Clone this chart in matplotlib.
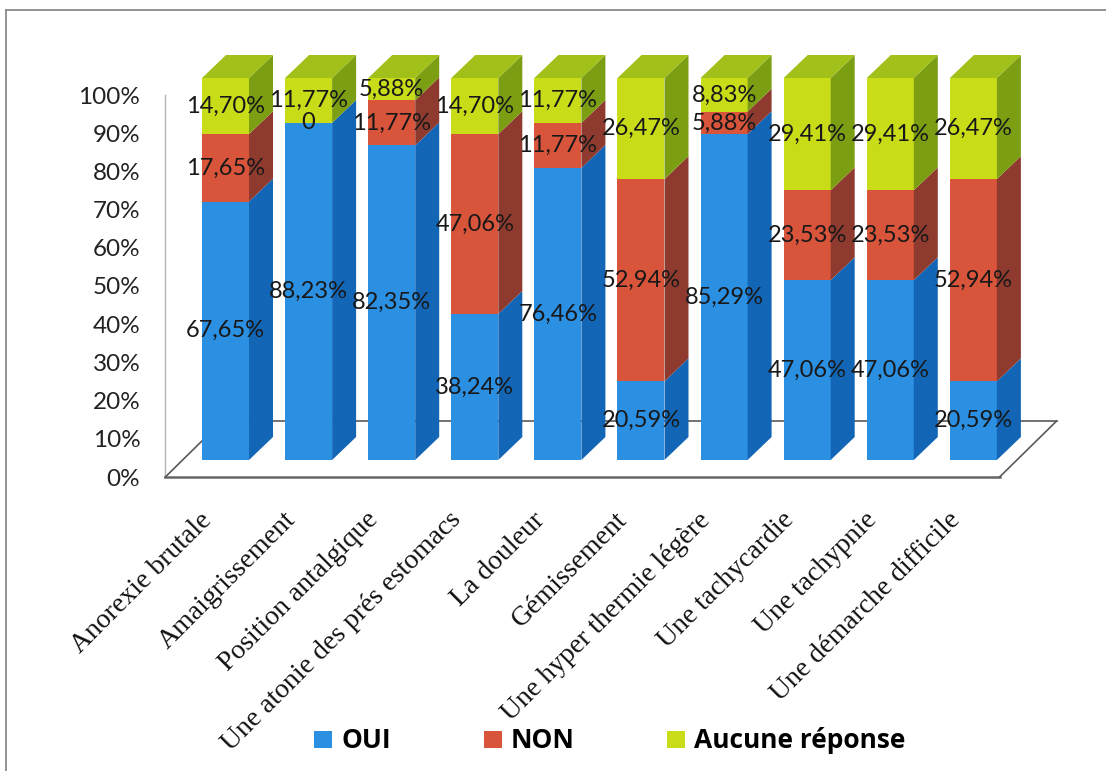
import matplotlib
matplotlib.use("Agg")
import matplotlib.pyplot as plt
from matplotlib.patches import Polygon
from matplotlib.lines import Line2D
from matplotlib.transforms import ScaledTranslation
import numpy as np

# ---- data -------------------------------------------------------------
categories = [
    "Anorexie brutale",
    "Amaigrissement",
    "Position antalgique",
    "Une atonie des prés estomacs",
    "La douleur",
    "Gémissement",
    "Une hyper thermie légère",
    "Une tachycardie",
    "Une tachypnie",
    "Une démarche difficile",
]
series_names = ["OUI", "NON", "Aucune réponse"]
oui = [67.65, 88.23, 82.35, 38.24, 76.46, 20.59, 85.29, 47.06, 47.06, 20.59]
non = [17.65, 0.00, 11.77, 47.06, 11.77, 52.94, 5.88, 23.53, 23.53, 52.94]
aucune = [14.70, 11.77, 5.88, 14.70, 11.77, 26.47, 8.83, 29.41, 29.41, 26.47]
y_ticks = [0, 10, 20, 30, 40, 50, 60, 70, 80, 90, 100]
y_tick_labels = [f"{t}%" for t in y_ticks]

# ---- style ------------------------------------------------------------
front_colors = ["#2b8fe2", "#d8543b", "#c9dc18"]
side_colors = ["#1366b6", "#8f3a2e", "#7c9e12"]
top_color = "#a2c01a"
label_color = "#181818"

W, H = 1106, 771
fig = plt.figure(figsize=(W / 100, H / 100), dpi=100)

# pixel layout of the plotting box (front plane of the columns)
x_lo, x_hi = -0.52, 9.52
px_left, px_right = 182.3, 1016.6
px_bottom, px_top = 311.0, 693.0
ax = fig.add_axes([px_left / W, px_bottom / H,
                   (px_right - px_left) / W, (px_top - px_bottom) / H])
ax.set_xlim(x_lo, x_hi)
ax.set_ylim(0, 100)
ax.axis("off")
ax.patch.set_visible(False)

ppx = (px_right - px_left) / (x_hi - x_lo)   # pixels per category unit
ppy = (px_top - px_bottom) / 100.0            # pixels per percent

# floor front plane sits slightly in front of the columns
floor_dx, floor_dy = -17.0, -17.0
axf = fig.add_axes([(px_left + floor_dx) / W, (px_bottom + floor_dy) / H,
                    (px_right - px_left) / W, (px_top - px_bottom) / H])
axf.set_xlim(x_lo, x_hi)
axf.set_ylim(0, 100)
axf.patch.set_visible(False)
axf.set_zorder(ax.get_zorder() - 1)
for side in ("top", "right"):
    axf.spines[side].set_visible(False)
axf.spines["left"].set_color("#b5b5b5")
axf.spines["left"].set_linewidth(1.0)
axf.spines["bottom"].set_color("#666666")
axf.spines["bottom"].set_linewidth(1.8)
axf.set_yticks(y_ticks)
axf.set_yticklabels(y_tick_labels, fontsize=17.5, family="Lato", color="#222222")
axf.tick_params(axis="y", length=0, pad=18)
x = np.arange(len(categories))
axf.set_xticks(x)
axf.set_xticklabels(categories, rotation=45, ha="right", va="top",
                    rotation_mode="anchor", fontsize=20,
                    family="Liberation Serif", color="#111111")
axf.tick_params(axis="x", length=0, pad=22)
shift = ScaledTranslation(-9 / 100, 0, fig.dpi_scale_trans)
for lab in axf.get_xticklabels():
    lab.set_transform(lab.get_transform() + shift)

# depth of the columns and of the floor, in data units
bar_w = 47.0 / ppx
dx, dy = 24.0 / ppx, 23.0 / ppy
back_dx, back_dy = 40.0 / ppx, 39.0 / ppy
f_dx, f_dy = floor_dx / ppx, floor_dy / ppy

# floor: back edge and the two receding edges
floor_kw = dict(color="#5a5a5a", lw=1.2, clip_on=False, zorder=0.5)
ax.add_line(Line2D([x_lo + back_dx, x_hi + back_dx], [back_dy, back_dy], **floor_kw))
ax.add_line(Line2D([x_lo + f_dx, x_lo + back_dx], [f_dy, back_dy], **floor_kw))
ax.add_line(Line2D([x_hi + f_dx, x_hi + back_dx], [f_dy, back_dy], **floor_kw))

# stacked columns
values = [oui, non, aucune]
bottoms = np.zeros(len(categories))
handles = []
for s, vals in enumerate(values):
    vals = np.asarray(vals, dtype=float)
    bars = ax.bar(x, vals, bar_w, bottom=bottoms, color=front_colors[s],
                  label=series_names[s], zorder=2, clip_on=False, linewidth=0)
    handles.append(bars)
    for i in range(len(x)):
        b, h = bottoms[i], vals[i]
        if h <= 0:
            continue
        xr = x[i] + bar_w / 2
        ax.add_patch(Polygon([(xr, b), (xr + dx, b + dy), (xr + dx, b + h + dy), (xr, b + h)],
                             closed=True, facecolor=side_colors[s], edgecolor="none",
                             zorder=2, clip_on=False))
    bottoms = bottoms + vals

# top faces of the columns
for i in range(len(x)):
    xl, xr, t = x[i] - bar_w / 2, x[i] + bar_w / 2, bottoms[i]
    ax.add_patch(Polygon([(xl, t), (xr, t), (xr + dx, t + dy), (xl + dx, t + dy)],
                         closed=True, facecolor=top_color, edgecolor="none",
                         zorder=2, clip_on=False))

# value labels centred on each segment
def fmt(v):
    if v == 0:
        return "0"
    return f"{v:.2f}".replace(".", ",") + "%"

bottoms = np.zeros(len(categories))
for vals in values:
    for i, v in enumerate(vals):
        ax.text(x[i], bottoms[i] + v / 2, fmt(v), ha="center", va="center",
                fontsize=17, family="Lato", color=label_color, zorder=5,
                clip_on=False)
    bottoms = bottoms + np.asarray(vals, dtype=float)

# legend
fig.legend(handles=handles, labels=series_names, loc="center",
           bbox_to_anchor=(610 / W, 30 / H), ncol=3, frameon=False,
           prop=dict(family="Open Sans", weight="bold", size=19),
           handlelength=0.68, handleheight=0.6, handletextpad=0.35,
           columnspacing=3.5)

# outer chart border
fig.add_artist(Line2D([6 / W, 1.0], [1 - 10 / H, 1 - 10 / H],
                      transform=fig.transFigure, color="#8a8a8a", lw=1.3))
fig.add_artist(Line2D([6 / W, 6 / W], [0.0, 1 - 10 / H],
                      transform=fig.transFigure, color="#8a8a8a", lw=1.3))

fig.savefig("out.png", dpi=100, facecolor="white")
